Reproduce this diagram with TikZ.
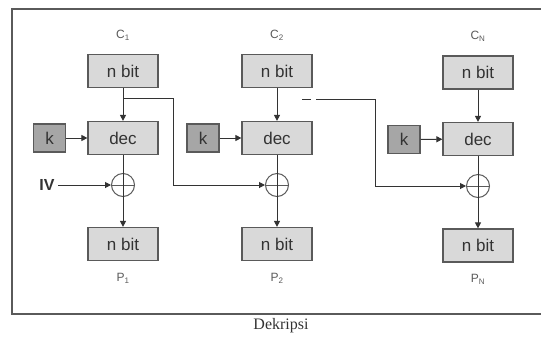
\documentclass[tikz,border=0pt]{standalone}
\usepackage{fontspec}
\setmainfont{Liberation Serif}
\newfontfamily\arialish{Liberation Sans}
\usetikzlibrary{arrows.meta}
\definecolor{boxfill}{HTML}{D9D9D9}
\definecolor{keyfill}{HTML}{A6A6A6}
\definecolor{edge}{HTML}{5A5A5A}
\definecolor{ink}{HTML}{333333}
\begin{document}
\begin{tikzpicture}[x=1pt,y=-1pt,
  blk/.style={draw=edge,line width=1.2pt,fill=boxfill,minimum width=70pt,minimum height=33pt,inner sep=0pt,
    font=\arialish\fontsize{17}{17}\selectfont,text=ink},
  keybox/.style={draw=edge,line width=1.2pt,fill=keyfill,minimum width=32pt,minimum height=28pt,inner sep=0pt,
    font=\arialish\fontsize{17}{17}\selectfont,text=ink},
  xorc/.style={draw=edge,line width=1pt,circle,minimum size=23pt,inner sep=0pt},
  lbl/.style={font=\arialish\fontsize{12}{12}\selectfont,text=edge},
  wire/.style={draw=ink,line width=1pt},
  arr/.style={wire,-{Triangle[length=6pt,width=6pt]}}]
\useasboundingbox (0,0) rectangle (541,338);
% outer frame (right side runs off the page)
\begin{scope}
\clip (0,0) rectangle (541,338);
\draw[edge,line width=1.3pt] (560,9) -- (12,9) -- (12,314) -- (560,314);
\end{scope}
\node[font=\fontsize{16}{16}\selectfont,text=ink] (cap) at (281,326) {Dekripsi};

% column 1
\node[lbl] (c1) at (123,35) {C\textsubscript{1}};
\node[blk] (in1) at (123,71) {n bit};
\node[blk] (dec1) at (123,138) {dec};
\node[keybox] (k1) at (49.5,138) {k};
\node[xorc] (x1) at (123,185) {};
\node[blk] (out1) at (123,244) {n bit};
\node[lbl] (p1) at (123,278) {P\textsubscript{1}};
\node[font=\arialish\bfseries\fontsize{16}{16}\selectfont,text=ink] (iv) at (47,185) {IV};

% column 2
\node[lbl] (c2) at (277,35) {C\textsubscript{2}};
\node[blk] (in2) at (277,71) {n bit};
\node[blk] (dec2) at (277,138) {dec};
\node[keybox] (k2) at (203,138) {k};
\node[xorc] (x2) at (277,185) {};
\node[blk] (out2) at (277,244) {n bit};
\node[lbl] (p2) at (277,278) {P\textsubscript{2}};

% column N
\node[lbl] (cn) at (478,36) {C\textsubscript{N}};
\node[blk] (inn) at (478,72.5) {n bit};
\node[blk] (decn) at (478,139) {dec};
\node[keybox] (kn) at (404,139.5) {k};
\node[xorc] (xn) at (478,186) {};
\node[blk] (outn) at (478,245.5) {n bit};
\node[lbl] (pn) at (478,279) {P\textsubscript{N}};

% plus signs inside the xor circles
\foreach \x in {x1,x2,xn}{
  \draw[edge,line width=0.8pt] (\x.north) -- (\x.south) (\x.west) -- (\x.east);
}

% chains through each column
\foreach \i/\d/\k/\x/\o in {in1/dec1/k1/x1/out1,in2/dec2/k2/x2/out2,inn/decn/kn/xn/outn}{
  \draw[arr] (\i) -- (\d);
  \draw[arr] (\k) -- (\d);
  \draw[wire] (\d) -- (\x.north);
  \draw[arr] (\x.north) -- (\o);
}
\draw[arr] (iv) -- (x1);

% ciphertext feedback C1 -> second xor
\coordinate (f1a) at (123,98);
\coordinate (f1b) at (173,98);
\coordinate (f1c) at (173,185);
\draw[wire] (f1a) -- (f1b) -- (f1c);
\draw[arr] (f1c) -- (x2);

% ciphertext feedback towards the last xor
\coordinate (f2a) at (302,99);
\coordinate (f2b) at (311,99);
\coordinate (f2c) at (316,99);
\coordinate (f2d) at (375,99);
\coordinate (f2e) at (375,186);
\draw[wire] (f2a) -- (f2b);
\draw[wire] (f2c) -- (f2d) -- (f2e);
\draw[arr] (f2e) -- (xn);
\end{tikzpicture}
\end{document}
